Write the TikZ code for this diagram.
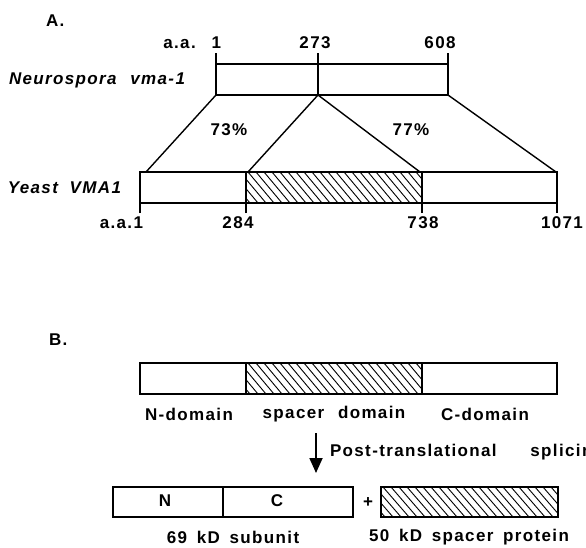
\documentclass[tikz,border=0pt]{standalone}
\usepackage{fontspec}
\setmainfont{Liberation Sans}[LetterSpace=8,WordSpace=1.6]
\usetikzlibrary{arrows.meta}

% diagonal hatching inside a rectangle: x1,y1,x2,y2
\newcommand{\hatchfill}[4]{%
  \begin{scope}
    \clip (#1,#2) rectangle (#3,#4);
    \foreach \hx in {0,8,...,300}
      \draw[hatch] ({#1-30+\hx},#2) -- ++(26,{#4-#2});
  \end{scope}}

\begin{document}
\begin{tikzpicture}[x=1pt,y=-1pt,inner sep=0pt,outer sep=0pt,
  font=\fontsize{17}{19}\selectfont\bfseries,
  box/.style={draw,line width=1.8pt,minimum height=31pt},
  link/.style={line width=1.4pt},
  hatch/.style={line width=.9pt},
  species/.style={anchor=east,font=\fontsize{17}{19}\selectfont\bfseries\itshape}]
  \useasboundingbox (0,0) rectangle (586,547);

  % part A
  \node[anchor=west] (A) at (46,21) {A.};
  \node[species] (neurolbl) at (185,80) {Neurospora\hspace{4pt} vma-1};
  \node[species] (yeastlbl) at (121,187.5) {Yeast\hspace{2pt} VMA1};

  \hatchfill{246}{172}{422}{203}
  \node[box,minimum width=232pt] (neuro) at (332,79.5) {};
  \node[box,minimum width=417pt] (yeast) at (348.5,187.5) {};
  \draw[box] (246,172) -- (246,203);
  \draw[box] (422,172) -- (422,203);

  % ticks and residue numbers
  \coordinate (n1) at (216,53);
  \coordinate (n273) at (318,53);
  \coordinate (n608) at (448,53);
  \coordinate (y1) at (140,213);
  \coordinate (y284) at (246,213);
  \coordinate (y738) at (422,213);
  \coordinate (y1071) at (557,213);
  \draw[link] (n1) -- (neuro.north west);
  \draw[link] (n273) -- (318,95) coordinate (nsplit);
  \draw[link] (n608) -- (neuro.north east);
  \draw[link] (y1) -- (yeast.south west);
  \draw[link] (y284) -- (246,203);
  \draw[link] (y738) -- (422,203);
  \draw[link] (y1071) -- (yeast.south east);

  \node[anchor=east] (aa1) at (221,43) {a.a.\hspace{4pt} 1};
  \node (t273) at (315,43) {273};
  \node (t608) at (440,43) {608};
  \node[anchor=east] (aa2) at (143,223) {a.a.1};
  \node (t284) at (238,223) {284};
  \node (t738) at (423,223) {738};
  \node (t1071) at (562,223) {1071};

  % homology lines
  \coordinate (ya) at (146,172);
  \coordinate (yb) at (248,172);
  \coordinate (yc) at (420,172);
  \coordinate (yd) at (556,172);
  \draw[link] (neuro.south west) -- (ya);
  \draw[link] (nsplit) -- (yb);
  \draw[link] (nsplit) -- (yc);
  \draw[link] (neuro.south east) -- (yd);
  \node (p73) at (229,130) {73\%};
  \node (p77) at (411,130) {77\%};

  % part B
  \node[anchor=west] (B) at (49,340) {B.};
  \hatchfill{246}{363}{422}{394}
  \node[box,minimum width=417pt] (precursor) at (348.5,378.5) {};
  \draw[box] (246,363) -- (246,394);
  \draw[box] (422,363) -- (422,394);
  \node (ndom) at (189,414) {N-domain};
  \node (sdom) at (334,414) {spacer\hspace{4pt} domain};
  \node (cdom) at (485,414) {C-domain};

  \coordinate (arrtop) at (316,433);
  \coordinate (arrbot) at (316,473);
  \draw[line width=1.8pt,-{Triangle[width=13pt,length=15pt]}] (arrtop) -- (arrbot);
  \node[anchor=west] (splice) at (330,452) {Post-translational\hspace{24pt} splicing};

  \node[box,minimum width=240pt,minimum height=30pt] (subunit) at (233,502) {};
  \draw[line width=1.2pt] (223,487) -- (223,517);
  \node (nlbl) at (165,501) {N};
  \node (clbl) at (277,501) {C};
  \node (plus) at (368,503) {+};
  \hatchfill{381}{487}{558}{517}
  \node[box,minimum width=177pt,minimum height=30pt] (spacer) at (469.5,502) {};
  \node (kd69) at (233,537) {69 kD subunit};
  \node (kd50) at (469,537) {50 kD spacer protein};
\end{tikzpicture}
\end{document}
